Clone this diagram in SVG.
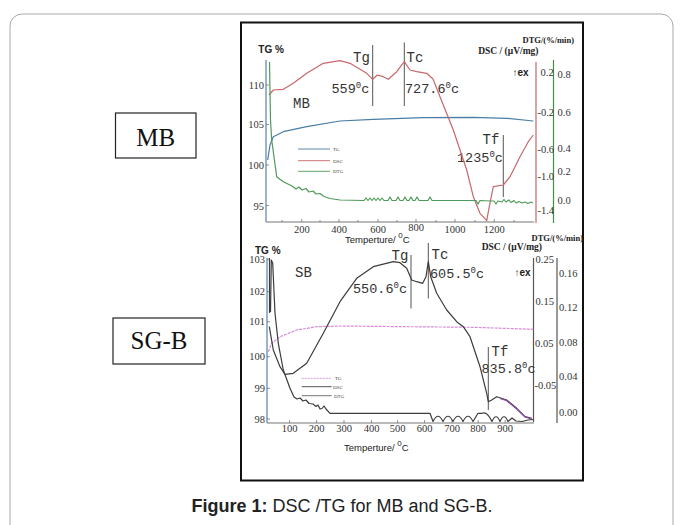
<svg xmlns="http://www.w3.org/2000/svg" width="683" height="525" viewBox="0 0 683 525">
<style>
.ax{fill:none;stroke-width:1.2}
.tick{stroke:#666;stroke-width:0.7}
.num{font-family:"Liberation Serif",serif;font-size:10.5px;fill:#333}
.mono{font-family:"Liberation Mono",monospace;fill:#333}
.hdr{font-family:"Liberation Sans",Arial,sans-serif;font-weight:bold;font-size:10px;fill:#222}
.unit{font-family:"Liberation Serif",serif;font-weight:bold;fill:#222}
.xt{font-family:"Liberation Sans",Arial,sans-serif;font-size:9.5px;fill:#222}
.leg{font-family:"Liberation Serif",serif;font-size:5px;fill:#444}
.mark{stroke:#555;stroke-width:1;fill:none}
.curve{fill:none;stroke-width:1.2;stroke-linejoin:round}
</style>
<rect width="683" height="525" fill="#ffffff"/>
<g id="outer-frame"><rect x="10" y="14" width="663" height="540" rx="12" fill="none" stroke="#a8a8a8" stroke-width="1"/></g>
<g id="plot-frame"><rect x="241" y="22.5" width="342" height="458" fill="#fff" stroke="#111" stroke-width="2"/></g>

<g id="label-MB"><rect x="115.5" y="113" width="80.5" height="45" fill="#fff" stroke="#222" stroke-width="1.2"/>
<text x="155.7" y="146" text-anchor="middle" font-family="Liberation Serif,serif" font-size="25" fill="#111">MB</text></g>
<g id="label-SGB"><rect x="113" y="318" width="92" height="46" fill="#fff" stroke="#222" stroke-width="1.2"/>
<text x="159" y="349" text-anchor="middle" font-family="Liberation Serif,serif" font-size="25" fill="#111">SG-B</text></g>

<!-- TOP CHART -->
<g id="top-axes">
<line x1="266" y1="60" x2="266" y2="222" class="ax" stroke="#5a80a8"/>
<line x1="266" y1="222" x2="534" y2="222" class="ax" stroke="#777"/>
<line x1="536" y1="62" x2="536" y2="223" class="ax" stroke="#c06868"/>
<line x1="553.5" y1="60" x2="553.5" y2="223" class="ax" stroke="#3f8f45"/>
<path class="tick" d="M266,85h3M266,124.5h3M266,165h3M266,205.5h3M301.8,222v-3M339,222v-3M378,222v-3M416,222v-3M455,222v-3M494.3,222v-3M282,222v-2M320,222v-2M358,222v-2M397,222v-2M436,222v-2M475,222v-2M514,222v-2"/>
</g>
<g id="top-texts">
<text x="258.3" y="52.5" class="hdr">TG %</text>
<text x="264" y="89" class="num" text-anchor="end">110</text>
<text x="264" y="128" class="num" text-anchor="end">105</text>
<text x="264" y="169" class="num" text-anchor="end">100</text>
<text x="264" y="209.5" class="num" text-anchor="end">95</text>
<text x="301.8" y="233" class="num" text-anchor="middle">200</text>
<text x="339" y="233" class="num" text-anchor="middle">400</text>
<text x="378" y="233" class="num" text-anchor="middle">600</text>
<text x="416" y="230.5" class="num" text-anchor="middle">800</text>
<text x="455" y="233" class="num" text-anchor="middle">1000</text>
<text x="494.3" y="233" class="num" text-anchor="middle">1200</text>
<text x="345" y="243" class="xt">Temperture/ <tspan font-size="8" dy="-5">0</tspan><tspan dy="5">C</tspan></text>
<text x="574" y="43" class="unit" font-size="8.5" text-anchor="end">DTG/(%/min)</text>
<text x="538.5" y="54" class="unit" font-size="9.5" text-anchor="end">DSC / (μV/mg)</text>
<text x="512.5" y="75.5" class="hdr" font-size="8">↑ex</text>
<text x="540.5" y="76" class="num">0.2</text>
<text x="537.5" y="115.5" class="num">-0.2</text>
<text x="537.5" y="153" class="num">-0.6</text>
<text x="537.5" y="179.5" class="num">-1.0</text>
<text x="537.5" y="213.5" class="num">-1.4</text>
<text x="557.5" y="77.5" class="num">0.8</text>
<text x="557.5" y="115.5" class="num">0.6</text>
<text x="557.5" y="152" class="num">0.4</text>
<text x="557.5" y="175" class="num">0.2</text>
<text x="557.5" y="203.5" class="num">0.0</text>
<text x="353" y="61.5" class="mono" font-size="14">Tg</text>
<text x="406.5" y="61.5" class="mono" font-size="14">Tc</text>
<text x="331.5" y="92.5" class="mono" font-size="13.5">559<tspan font-size="9" dy="-5">0</tspan><tspan dy="5">c</tspan></text>
<text x="405" y="92.5" class="mono" font-size="13.5">727.6<tspan font-size="9" dy="-5">0</tspan><tspan dy="5">c</tspan></text>
<text x="293" y="107.5" class="mono" font-size="14">MB</text>
<text x="482.5" y="144" class="mono" font-size="14">Tf</text>
<text x="457" y="161.5" class="mono" font-size="13.5">1235<tspan font-size="9" dy="-5">0</tspan><tspan dy="5">c</tspan></text>
</g>
<g id="top-markers">
<line x1="372.7" y1="45" x2="372.7" y2="106" class="mark"/>
<line x1="404.3" y1="42.5" x2="404.3" y2="106" class="mark"/>
<line x1="503.3" y1="135" x2="503.3" y2="197" class="mark"/>
</g>
<g id="top-legend">
<line x1="298" y1="149" x2="330" y2="149" stroke="#4a7ea6" stroke-width="0.9"/>
<line x1="298" y1="160.7" x2="330" y2="160.7" stroke="#c8686a" stroke-width="0.9"/>
<line x1="298" y1="171.3" x2="330" y2="171.3" stroke="#4f9a5a" stroke-width="0.9"/>
<text x="333" y="151" class="leg">TG</text>
<text x="333" y="162.5" class="leg">DSC</text>
<text x="333" y="173" class="leg">DTG</text>
</g>
<g id="top-curves">
<path class="curve" stroke="#4a7ea6" d="M267.7,160 L270,145 L273.3,136.7 L283.3,131.7 L306.7,126.7 L340,121 L373.3,119.3 L423.3,117.7 L473.3,117.3 L506.7,118.3 L533.3,121"/>
<path class="curve" stroke="#c8686a" d="M269,95 L273.3,90 L283.3,89.3 L293.3,83.3 L306.7,73.3 L323.3,63.3 L340,60.7 L350,63.3 L366.7,73.3 L372.7,79.3 L377.3,75 L383.3,76.7 L388.3,79.3 L396.7,71.7 L404.3,61.7 L410,70 L416.7,71.7 L426.7,73.3 L433,79 L440,96.7 L453.3,130 L466.7,170 L473.3,196.7 L480,213.3 L486.7,220.7 L489.3,206.7 L493.3,186.7 L503.3,185 L510,176.7 L520,156.7 L528.3,141.7 L533.3,135"/>
<path class="curve" stroke="#4f9a5a" d="M269.5,62 L270.5,120 L271.7,140 L276.7,176.7 L283.3,181.7 L292,186 L296,189 L299,187 L302,190 L306,188.5 L309,192 L313,191 L316,194 L320,193.5 L324,196.5 L330,198.5 L340,200 L364,200.5 L366,198 L368,200.5 L370,198 L372,200.5 L374,198 L376,200.5 L378,198 L380,200.5 L382,198 L384,200.5 L388,200.5 L390,197 L392,200.5 L396,200.5 L398,197 L400,200.5 L403,200.5 L405,197 L407,200.5 L409,200.5 L411,197 L413,200.5 L415,200.5 L417,197 L419,200.5 L428,200.5 L430,197 L432,200.5 L476,200.5 L478,204 L480,200.5 L490,201 L494,201 L496,204 L498,201 L502,202 L504,199.5 L506,202 L509,200 L511,202.5 L514,200.5 L516,203 L519,201.5 L522,203 L525,202 L528,203.5 L531,202 L533,203"/>
</g>

<!-- BOTTOM CHART -->
<g id="bottom-axes">
<line x1="267" y1="258" x2="267" y2="423" class="ax" stroke="#5a80a8"/>
<line x1="267" y1="423" x2="534" y2="423" class="ax" stroke="#777"/>
<line x1="533.5" y1="258" x2="533.5" y2="422" class="ax" stroke="#555"/>
<line x1="557" y1="258" x2="557" y2="423" class="ax" stroke="#555"/>
<path class="tick" d="M267,259.3h3M267,291.7h3M267,321.7h3M267,356.7h3M267,388.3h3M267,419h3M289.6,423v-3M316.6,423v-3M344,423v-3M371.5,423v-3M397.6,423v-3M424.6,423v-3M452,423v-3M478.2,423v-3M505.2,423v-3"/>
</g>
<g id="bottom-texts">
<text x="255" y="253.5" class="hdr">TG %</text>
<text x="265" y="263" class="num" text-anchor="end">103</text>
<text x="265" y="295" class="num" text-anchor="end">102</text>
<text x="265" y="325" class="num" text-anchor="end">101</text>
<text x="265" y="360" class="num" text-anchor="end">100</text>
<text x="265" y="392" class="num" text-anchor="end">99</text>
<text x="265" y="422.5" class="num" text-anchor="end">98</text>
<text x="289.6" y="432" class="num" text-anchor="middle">100</text>
<text x="316.6" y="432" class="num" text-anchor="middle">200</text>
<text x="344" y="432" class="num" text-anchor="middle">300</text>
<text x="371.5" y="432" class="num" text-anchor="middle">400</text>
<text x="397.6" y="432" class="num" text-anchor="middle">500</text>
<text x="424.6" y="432" class="num" text-anchor="middle">600</text>
<text x="452" y="432" class="num" text-anchor="middle">700</text>
<text x="478.2" y="432" class="num" text-anchor="middle">800</text>
<text x="505.2" y="432" class="num" text-anchor="middle">900</text>
<text x="344" y="451" class="xt">Temperture/ <tspan font-size="8" dy="-5">0</tspan><tspan dy="5">C</tspan></text>
<text x="583" y="241" class="unit" font-size="8.5" text-anchor="end">DTG/(%/min)</text>
<text x="542" y="250" class="unit" font-size="9.5" text-anchor="end">DSC / (μV/mg)</text>
<text x="514.5" y="276" class="hdr" font-size="8">↑ex</text>
<text x="535.5" y="263" class="num">0.25</text>
<text x="535.5" y="305" class="num">0.15</text>
<text x="535" y="347" class="num">0.05</text>
<text x="534.5" y="388.5" class="num">-0.05</text>
<text x="559" y="277" class="num">0.16</text>
<text x="559" y="311" class="num">0.12</text>
<text x="559" y="346" class="num">0.08</text>
<text x="559" y="380" class="num">0.04</text>
<text x="559" y="416" class="num">0.00</text>
<text x="391.5" y="260" class="mono" font-size="14">Tg</text>
<text x="431.5" y="258.5" class="mono" font-size="14">Tc</text>
<text x="353" y="292.5" class="mono" font-size="13.5">550.6<tspan font-size="9" dy="-5">0</tspan><tspan dy="5">c</tspan></text>
<text x="430" y="277.5" class="mono" font-size="13.5">605.5<tspan font-size="9" dy="-5">0</tspan><tspan dy="5">c</tspan></text>
<text x="295" y="276.5" class="mono" font-size="14">SB</text>
<text x="491.5" y="356" class="mono" font-size="14">Tf</text>
<text x="481.5" y="372.5" class="mono" font-size="13.5">835.8<tspan font-size="9" dy="-5">0</tspan><tspan dy="5">c</tspan></text>
</g>
<g id="bottom-markers">
<line x1="411" y1="255" x2="411" y2="308.5" class="mark"/>
<line x1="428.3" y1="243" x2="428.3" y2="298.5" class="mark"/>
<line x1="488.3" y1="347" x2="488.3" y2="410" class="mark"/>
</g>
<g id="bottom-legend">
<line x1="301.7" y1="378.3" x2="331.7" y2="378.3" stroke="#d88ad8" stroke-width="0.9" stroke-dasharray="2,1"/>
<line x1="301.7" y1="386.7" x2="331.7" y2="386.7" stroke="#444" stroke-width="0.9"/>
<line x1="301.7" y1="395.7" x2="331.7" y2="395.7" stroke="#666" stroke-width="0.9"/>
<text x="335" y="380.3" class="leg">TG</text>
<text x="333" y="388.7" class="leg">DSC</text>
<text x="334" y="397.7" class="leg">DTG</text>
</g>
<g id="bottom-curves">
<path class="curve" stroke="#d88ad8" stroke-dasharray="3,1" d="M268.3,351.7 L271.7,343.3 L280,336.7 L296.7,330 L316.7,326.7 L340,326 L406.7,326.7 L473.3,327.3 L533.3,329.3"/>
<path class="curve" stroke="#3c3c3c" d="M269.3,326.7 L273.3,350 L280,366.7 L285,374.3 L293.3,373.3 L306.7,363.3 L323.3,333.3 L340,301.7 L356.7,278.3 L373.3,266.7 L393.3,261.7 L400,262.7 L406.7,268.3 L411.7,280 L416.7,281.7 L422.7,283.3 L426,276.7 L428.3,261.7 L430.7,276.7 L436.7,293.3 L446.7,310 L456.7,321.7 L463.3,326.7 L470,336.7 L480,366.7 L486.7,393.3 L488.3,401.7 L491.7,400 L496.7,396.7 L506.7,400 L516.7,408.3 L525,416.7 L531.7,418.3"/>
<path class="curve" stroke="#8a4aa0" stroke-width="1" d="M500,398.5 L506.7,400.7 L516.7,409 L525,417 L531.7,419"/>
<path class="curve" stroke="#3c3c3c" d="M270.5,312 L271.3,260 L272.7,263.3 L275,313.3 L278.3,343.3 L283.3,370 L290,388.3 L294,397 L297,399 L300,398 L303,401 L306,400 L309,403.5 L313,404 L316,406.5 L318,405 L320,409 L322,408.5 L324,406 L326,409 L330,413.3 L430,413.3 L433,421.5 Q438,411 443,421.5 Q448,411 453,421.5 Q458,411 463,421.5 Q468,411 473,421.5 L478,413.3 L482,413.3 Q487,411 492,421.5 Q496,412 500,421.5 Q504,412 508,421.5 L512,418 L516,421 L522,421.5 L528,420 L533,419.5"/>
<path class="curve" stroke="#3c3c3c" stroke-width="1" d="M269.5,313 L269.5,258"/>
</g>

<g id="caption">
<text x="342" y="512" text-anchor="middle" font-family="Liberation Sans,Arial,sans-serif" font-size="18" fill="#222"><tspan font-weight="bold">Figure 1:</tspan> DSC /TG for MB and SG-B.</text>
</g>
</svg>
